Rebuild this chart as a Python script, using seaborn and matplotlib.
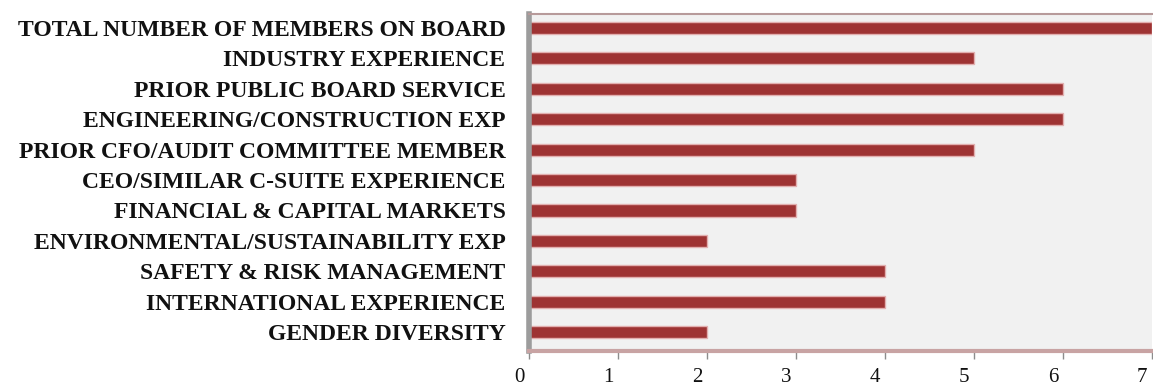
import matplotlib
matplotlib.use("Agg")
import matplotlib.pyplot as plt
import matplotlib.transforms as mtransforms
import seaborn as sns
import pandas as pd

categories = [
    "TOTAL NUMBER OF MEMBERS ON BOARD",
    "INDUSTRY EXPERIENCE",
    "PRIOR PUBLIC BOARD SERVICE",
    "ENGINEERING/CONSTRUCTION EXP",
    "PRIOR CFO/AUDIT COMMITTEE MEMBER",
    "CEO/SIMILAR C-SUITE EXPERIENCE",
    "FINANCIAL & CAPITAL MARKETS",
    "ENVIRONMENTAL/SUSTAINABILITY EXP",
    "SAFETY & RISK MANAGEMENT",
    "INTERNATIONAL EXPERIENCE",
    "GENDER DIVERSITY",
]
values = [7, 5, 6, 6, 5, 3, 3, 2, 4, 4, 2]
x_ticks = [0, 1, 2, 3, 4, 5, 6, 7]

df = pd.DataFrame({"category": categories, "value": values})

sns.set_theme(style="white")
plt.rcParams["font.family"] = ["Liberation Serif", "DejaVu Serif"]

fig = plt.figure(figsize=(11.53, 3.88), dpi=100)
ax = fig.add_axes([529 / 1153, 1 - 351 / 388, 623 / 1153, (351 - 14) / 388])

sns.barplot(data=df, x="value", y="category", orient="h", ax=ax,
            color="#9E3333", width=0.40, edgecolor="#E2AFAF", linewidth=1.0,
            saturation=1)

ax.set_facecolor("#F1F1F1")
ax.set_xlim(0, 7)
ax.set_ylim(10.62, -0.46)
ax.set_xticks(x_ticks)
ax.set_xticklabels([str(t) for t in x_ticks], fontsize=15)
ax.set_xlabel("")
ax.set_ylabel("")
ax.tick_params(axis="x", direction="out", length=6, width=1, color="#8C8C8C",
               pad=6, bottom=True)
ax.tick_params(axis="y", length=0, pad=17)
for lab in ax.get_yticklabels():
    lab.set_fontsize(17)
    lab.set_fontweight("bold")
    lab.set_color("#111111")

offset = mtransforms.ScaledTranslation(-10 / 100, 0, fig.dpi_scale_trans)
for lab in ax.get_xticklabels():
    lab.set_transform(lab.get_transform() + offset)
    lab.set_color("#111111")

ax.spines["left"].set_color("#9C9C9C")
ax.spines["left"].set_linewidth(4)
ax.spines["bottom"].set_color("#C8A3A3")
ax.spines["bottom"].set_linewidth(3)
ax.spines["top"].set_color("#B79A9A")
ax.spines["top"].set_linewidth(1.5)
ax.spines["right"].set_visible(False)

fig.savefig("out.png", dpi=100, facecolor="white")
